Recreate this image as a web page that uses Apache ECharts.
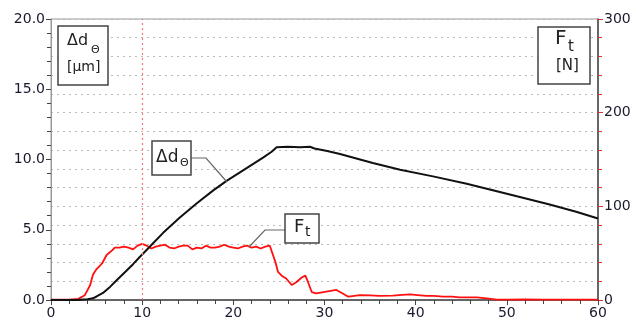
<!DOCTYPE html>
<html><head><meta charset="utf-8">
<script src="https://cdn.jsdelivr.net/npm/echarts@6/dist/echarts.min.js"></script>
<style>html,body{margin:0;padding:0;background:#fff}#c{width:636px;height:324px}</style>
</head><body><div id="c"></div>
<script>
// Δd_Θ [µm] (left axis)
var tD = [0,3,3.5,4,4.6,5,5.7,6.5,7.2,8.3,9,9.76,10.67,12.3,14.1,16,17.8,19.3,21.5,23.3,24.2,24.75,26,27.3,28.4,28.9,30.3,31.7,33.5,35.3,38.3,41.9,45.6,47.8,51.1,54.7,57.6,60];
var vD = [0,0,0.03,0.06,0.12,0.25,0.5,0.95,1.4,2.1,2.55,3.08,3.68,4.78,5.85,6.88,7.8,8.5,9.4,10.15,10.55,10.87,10.9,10.87,10.91,10.78,10.6,10.39,10.07,9.75,9.27,8.8,8.27,7.92,7.38,6.8,6.28,5.8];
// F_t [N] (right axis)
var tF = [0,1,2,2.5,3,3.2,3.7,4.3,4.6,5.0,5.3,5.6,6.1,6.7,7.0,7.5,8,8.5,9,9.5,10,10.5,11,11.5,12,12.5,13,13.5,14,14.5,15,15.5,16,16.5,17,17.5,18,18.5,19,19.5,20,20.5,21,21.5,22,22.5,23,23.5,24,24.2,24.6,24.9,25.3,25.8,26.4,26.9,27.5,27.9,28.2,28.6,29.1,30.2,31.3,32,32.6,33.9,35,36,37.5,38.5,39.4,40.5,41.2,42,43,44,44.8,46,46.7,47.8,48.9,50,52,54,56,58,60];
var vF = [0.5,0.5,0.5,0.8,1.2,1.5,5,16,27,33,36,39,48,53,56,56,57,56,54,58,60,58,55,57,58,59,56,55,57,58,58,54,56,55,58,56,56,57,59,57,56,55,57,58,56,57,55,57,58,58,41,30,26,23,16,19,24,26,19,8.5,7,9,10.7,7,3.5,5.3,5,4.5,4.6,5.5,6,5,4.3,4.5,3.5,3.5,2.9,2.9,2.9,1.8,0.5,0.5,0.6,0.4,0.5,0.5,0.5];
var xTicks = [0,10,20,30,40,50,60];
var leftTicks = ['0.0','5.0','10.0','15.0','20.0'];
var rightTicks = ['0','100','200','300'];

function pairs(t, v){ return t.map(function(x,i){return [x, v[i]];}); }

var FONT = 'DejaVu Sans';
var TXT = '#1a1a2e';
var chart = echarts.init(document.getElementById('c'), null, {renderer:'canvas'});

function box(x,y,w,h){
  return {type:'rect', shape:{x:x,y:y,width:w,height:h}, style:{fill:'#fff', stroke:'#444', lineWidth:1.5}, z:100};
}
function txt(x,y,s,size){
  return {type:'text', x:x, y:y, style:{text:s, font: size+'px "'+FONT+'"', fill:'#222', textAlign:'left', textVerticalAlign:'top'}, z:101};
}
function line(pts){
  return {type:'polyline', shape:{points:pts}, style:{stroke:'#666', lineWidth:1.2, fill:null}, z:99};
}

chart.setOption({
  animation:false,
  grid:{left:51, right:38, top:19, bottom:24, show:true, borderColor:'#999', borderWidth:1},
  xAxis:{type:'value', min:0, max:60, interval:10,
    axisLine:{lineStyle:{color:'#444', width:1.5}},
    axisTick:{show:true, length:5, lineStyle:{color:'#444'}},
    minorTick:{show:true, splitNumber:5, length:4, lineStyle:{color:'#444'}},
    splitLine:{show:false},
    axisLabel:{color:TXT, fontFamily:FONT, fontSize:14, margin:6,
      formatter:function(v){ var i = xTicks.indexOf(v); return i>=0 ? String(xTicks[i]) : ''; }}
  },
  yAxis:[
    {type:'value', min:0, max:20, interval:5, position:'left',
      axisLine:{show:true, lineStyle:{color:'#999', width:1}},
      axisTick:{show:true, length:5, lineStyle:{color:'#444'}},
      minorTick:{show:true, splitNumber:5, length:4, lineStyle:{color:'#444'}},
      splitLine:{show:false},
      axisLabel:{color:TXT, fontFamily:FONT, fontSize:14, margin:6,
        formatter:function(v){ return leftTicks[Math.round(v/5)] || ''; }}
    },
    {type:'value', min:0, max:300, interval:100, position:'right',
      axisLine:{show:true, lineStyle:{color:'#444', width:1.5}},
      axisTick:{show:true, length:5, lineStyle:{color:'#e03030'}},
      minorTick:{show:true, splitNumber:5, length:4, lineStyle:{color:'#e03030'}},
      splitLine:{show:true, lineStyle:{color:'#bbb', type:[2,4], width:1}},
      minorSplitLine:{show:true, lineStyle:{color:'#bbb', type:[2,4], width:1}},
      axisLabel:{color:TXT, fontFamily:FONT, fontSize:14, margin:6,
        formatter:function(v){ return rightTicks[Math.round(v/100)] || ''; }}
    }
  ],
  series:[
    {type:'line', yAxisIndex:1, data:pairs(tF,vF), showSymbol:false, symbol:'none',
      lineStyle:{color:'#ff1010', width:1.8}, z:3,
      markLine:{silent:true, symbol:'none', label:{show:false},
        lineStyle:{color:'#f07878', type:[2,3], width:1.2},
        data:[{xAxis:10}]}
    },
    {type:'line', yAxisIndex:0, data:pairs(tD,vD), showSymbol:false, symbol:'none',
      lineStyle:{color:'#111', width:2}, z:4}
  ],
  graphic:[
    box(58,26,50,59), txt(67,33,'Δd',16), txt(91,45,'Θ',11), txt(67,60,'[µm]',14),
    box(538,27,52,57), txt(555,29,'F',20), txt(568,40,'t',15), txt(556,59,'[N]',15),
    line([[191,158],[206,158],[227,182]]),
    box(152,141,39,34), txt(156,149,'Δd',17), txt(180,158,'Θ',11),
    line([[285,230],[265,230],[249,247]]),
    box(285,214,34,29), txt(294,218,'F',18), txt(305,225,'t',14)
  ]
});
</script></body></html>
